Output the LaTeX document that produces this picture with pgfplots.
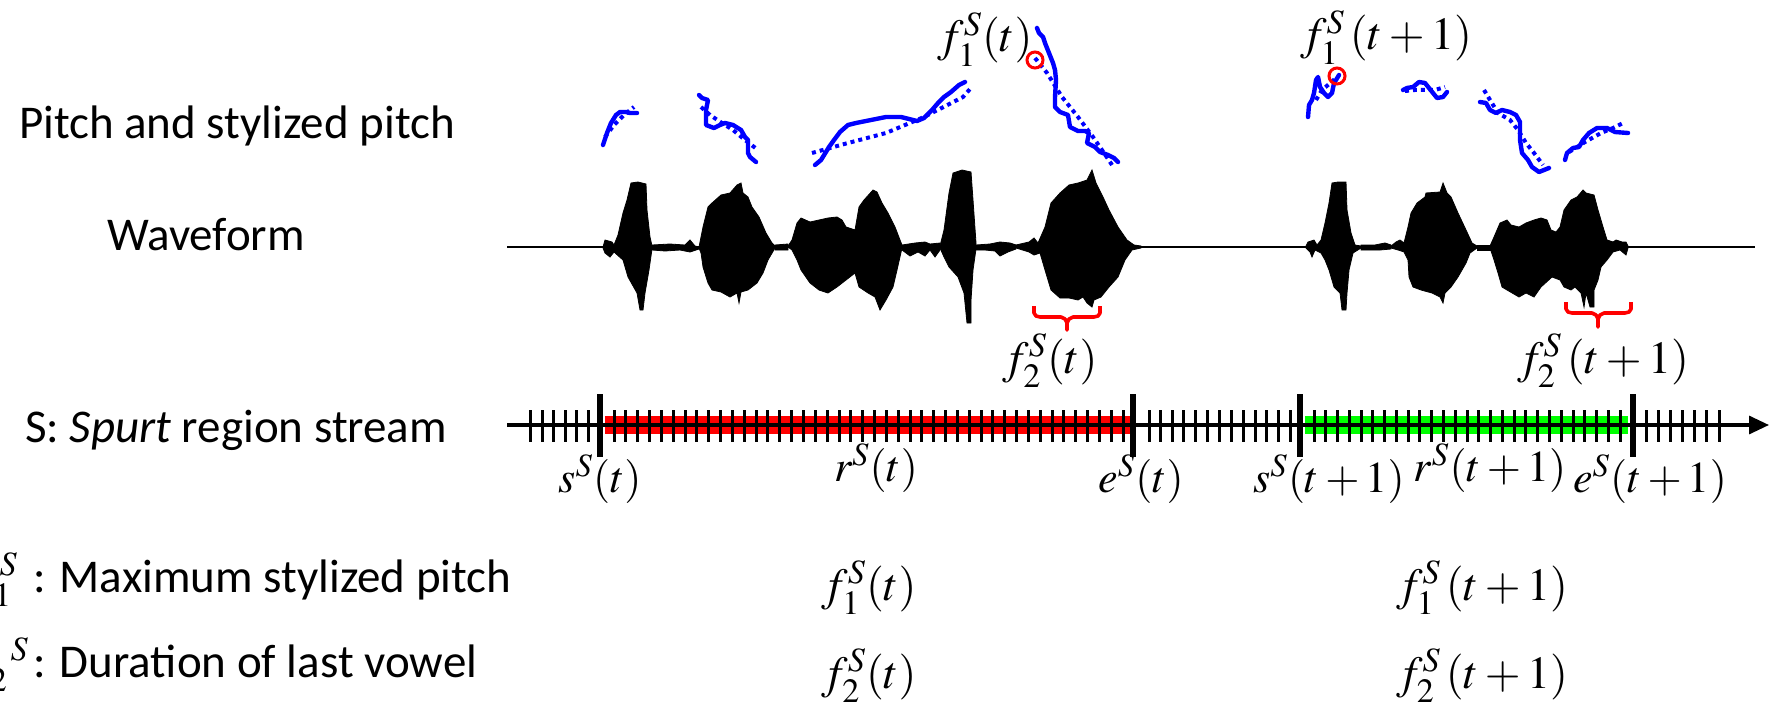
\documentclass[border=0pt]{standalone}
\usepackage{mathptmx}
\usepackage[no-math]{fontspec}
\setmainfont{Carlito}
\usepackage{pgfplots}
\pgfplotsset{compat=1.18}
\usetikzlibrary{arrows.meta}
\definecolor{pblue}{RGB}{0,0,255}
\definecolor{pred}{RGB}{255,0,0}
\definecolor{pgreen}{RGB}{0,255,0}
\newcommand{\mt}[1]{\fontsize{23}{27}\selectfont$#1$}
\newcommand{\ms}[1]{\fontsize{22}{26}\selectfont$#1$}
\newcommand{\tx}{\fontsize{23.5}{28}\selectfont}
\begin{document}
\begin{tikzpicture}
\useasboundingbox (0,0) rectangle (885pt,350.5pt);
\begin{axis}[at={(0,0)}, anchor=south west, scale only axis, width=885pt, height=350.5pt,
  xmin=0, xmax=1770, ymin=0, ymax=701, y dir=reverse, hide axis, clip=false,
  every node/.style={inner sep=0pt, outer sep=0pt},
  solidp/.style={pblue, line width=2.2pt, line join=round, line cap=round},
  dotp/.style={pblue, line width=2pt, dash pattern=on 2pt off 2pt},
  wave/.style={fill=black, draw=black, line width=0.4pt}]

% ---------- left labels ----------
\node[anchor=base west] at (axis cs:12,138) {\tx Pitch and stylized pitch};
\node[anchor=base west] at (axis cs:100,250) {\tx Waveform};
\node[anchor=base west] at (axis cs:18,442) {\tx S: \textit{Spurt} region stream};
\node[anchor=base east] at (axis cs:25,592) {\mt{f_1^S}};
\node[anchor=base west] at (axis cs:26,592) {\tx : Maximum stylized pitch};
\node[anchor=base east] at (axis cs:36,677) {\mt{f_{\,2}^{\;\;\,S}}};
\node[anchor=base west] at (axis cs:26,677) {\tx : Duration of last vowel};

% ---------- pitch curves ----------
\addplot[solidp] coordinates {(603,145)(607,133)(611,123)(616,115)(620,112)(626,112)(630,113)(637,113)};
\addplot[dotp] coordinates {(605,137)(614,125)(624,115)(634,107)};
\addplot[solidp] coordinates {(699,95)(702,98)(708,100)(706,110)(706,125)(714,128)(720,125)(725,123)(733,125)(741,130)(745,137)(748,140)(748,153)(750,157)(756,162)};
\addplot[dotp] coordinates {(701,107)(710,115)(722,123)(733,130)(745,140)(758,150)};
\addplot[solidp] coordinates {(815,165)(821,160)(829,147)(834,140)(840,132)(848,125)(856,123)(871,120)(886,117)(901,117)(917,121)(924,118)(932,110)(938,103)(944,97)(951,92)(959,85)(965,82)};
\addplot[dotp] coordinates {(812,153)(848,143)(886,133)(924,117)(963,97)(970,89)};
\addplot[solidp] coordinates {(1037,28)(1039,33)(1043,37)(1045,43)(1049,53)(1053,63)(1055,70)(1056,80)(1055,97)(1055,107)(1060,112)(1068,115)(1070,127)(1078,131)(1085,131)(1089,133)(1087,143)(1095,147)(1100,152)(1108,155)(1114,158)(1118,162)};
\addplot[dotp] coordinates {(1035,58)(1047,73)(1062,97)(1078,117)(1093,137)(1104,153)(1114,168)};
\addplot[solidp] coordinates {(1308,117)(1309,105)(1312,100)(1314,93)(1316,80)(1318,77)(1320,87)(1324,93)(1328,97)(1332,93)(1334,83)(1336,80)(1339,75)};
\addplot[dotp] coordinates {(1316,100)(1322,90)(1328,85)(1336,78)};
\addplot[solidp] coordinates {(1403,90)(1407,88)(1413,87)(1419,82)(1425,83)(1429,88)(1433,93)(1437,98)(1443,97)(1447,92)};
\addplot[dotp] coordinates {(1405,91)(1415,90)(1427,90)(1435,90)(1445,87)};
\addplot[solidp] coordinates {(1480,102)(1486,103)(1490,110)(1496,113)(1502,110)(1510,112)(1516,115)(1520,122)(1520,140)(1522,153)(1528,160)(1532,167)(1539,172)(1549,168)};
\addplot[dotp] coordinates {(1484,90)(1490,100)(1498,113)(1510,120)(1518,130)(1526,143)(1534,153)(1543,165)};
\addplot[solidp] coordinates {(1565,160)(1567,153)(1573,148)(1579,147)(1583,140)(1589,133)(1597,128)(1607,128)(1615,132)(1628,133)};
\addplot[dotp] coordinates {(1569,152)(1585,142)(1601,133)(1613,128)(1623,123)};

% maxima circles
\addplot[only marks, mark=o, mark size=4pt, mark options={pred, line width=1.5pt}] coordinates {(1035,60)(1337,76)};
\node[anchor=base] at (axis cs:985,52) {\mt{f_1^S(t)}};
\node[anchor=base] at (axis cs:1386,50) {\mt{f_1^S\,(t+1)}};

% ---------- waveform ----------
\addplot[black, line width=1.4pt] coordinates {(507,247)(1755,247)};
\addplot[wave] coordinates {(603,247)(605,240)(612,242)(614,245)(618,235)(623,213)(627,200)(631,183)(638,182)(646,184)(647,210)(650,237)(652,246)
  (652,249)(649,270)(645,293)(643,310)(640,310)(637,293)(628,277)(623,260)(614,252)(610,257)(605,253)(603,248)} -- cycle;
\addplot[wave] coordinates {(652,245)(670,244)(685,245)(690,240)(695,246)(699,247)(699,249)(690,252)(680,250)(665,251)(652,250)} -- cycle;
\addplot[wave] coordinates {(699,247)(703,227)(708,207)(712,203)(721,195)(730,193)(737,185)(741,183)(743,193)(748,197)(752,207)(759,217)(766,233)(772,243)(775,246)
  (775,248)(768,260)(763,273)(757,283)(748,290)(741,292)(739,303)(737,293)(730,297)(721,292)(712,290)(708,283)(703,267)(701,253)(699,248)} -- cycle;
\addplot[wave] coordinates {(775,245)(788,244)(788,250)(775,250)} -- cycle;
\addplot[wave] coordinates {(788,246)(792,240)(797,223)(801,218)(810,222)(819,220)(828,218)(837,217)(842,220)(846,227)(855,230)(859,207)(864,200)(873,190)(877,192)(882,203)(888,213)(895,227)(900,240)(902,245)
  (902,248)(897,270)(893,287)(886,300)(880,310)(875,297)(868,293)(859,287)(855,273)(846,280)(837,287)(828,293)(819,290)(810,283)(801,270)(797,260)(792,250)(788,247)} -- cycle;
\addplot[wave] coordinates {(902,245)(915,243)(925,242)(930,244)(940,243)(940,250)(935,257)(930,250)(925,256)(918,252)(910,256)(902,250)} -- cycle;
\addplot[wave] coordinates {(940,246)(944,230)(949,193)(953,173)(962,170)(971,172)(973,200)(976,243)
  (976,249)(973,270)(971,300)(971,323)(967,323)(964,293)(958,277)(949,267)(944,257)(940,248)} -- cycle;
\addplot[wave] coordinates {(976,245)(990,244)(1000,242)(1010,243)(1016,245)(1016,249)(1008,252)(1000,256)(995,251)(985,250)(976,250)} -- cycle;
\addplot[wave] coordinates {(1016,245)(1029,242)(1034,238)(1038,243)(1045,227)(1051,203)(1060,193)(1069,185)(1078,183)(1087,180)(1092,170)(1096,183)(1103,197)(1109,210)(1118,227)(1127,240)(1134,245)(1141,246)
  (1141,248)(1132,250)(1125,260)(1118,277)(1109,287)(1101,297)(1094,300)(1092,307)(1087,303)(1083,297)(1078,300)(1069,298)(1060,298)(1051,290)(1045,270)(1040,253)(1034,255)(1029,252)(1016,248)} -- cycle;
\addplot[wave] coordinates {(1306,246)(1308,242)(1314,240)(1317,245)(1321,240)(1325,223)(1329,203)(1332,183)(1338,182)(1346,182)(1347,210)(1351,233)(1355,245)(1361,246)
  (1361,248)(1353,253)(1349,270)(1347,293)(1346,310)(1342,310)(1340,293)(1334,287)(1329,270)(1325,260)(1321,253)(1315,250)(1312,257)(1310,252)(1306,248)} -- cycle;
\addplot[wave] coordinates {(1361,245)(1375,245)(1385,243)(1391,245)(1391,249)(1380,250)(1370,250)(1361,250)} -- cycle;
\addplot[wave] coordinates {(1391,246)(1396,242)(1400,240)(1404,243)(1408,227)(1411,213)(1417,203)(1425,197)(1426,193)(1440,192)(1443,183)(1447,193)(1451,197)(1458,213)(1466,230)(1472,243)(1477,246)
  (1477,248)(1470,253)(1466,263)(1458,277)(1451,287)(1445,293)(1443,303)(1440,297)(1432,293)(1421,290)(1413,287)(1409,277)(1408,260)(1404,252)(1398,250)(1391,248)} -- cycle;
\addplot[wave] coordinates {(1477,245)(1490,245)(1490,250)(1477,250)} -- cycle;
\addplot[wave] coordinates {(1490,246)(1494,237)(1500,223)(1507,220)(1511,225)(1519,227)(1526,223)(1534,220)(1541,218)(1547,220)(1551,230)(1556,232)(1560,227)(1564,210)(1571,200)(1577,197)(1583,190)(1586,193)(1594,195)(1598,210)(1603,227)(1607,240)(1613,242)(1616,240)(1622,242)(1626,242)(1628,246)
  (1628,248)(1626,255)(1620,250)(1613,252)(1607,260)(1601,267)(1598,280)(1594,290)(1594,307)(1590,307)(1586,293)(1584,307)(1581,293)(1575,287)(1571,290)(1564,287)(1560,280)(1552,277)(1541,287)(1534,297)(1526,293)(1519,297)(1507,290)(1502,287)(1498,273)(1494,260)(1490,248)} -- cycle;

% braces for last vowel
\addplot[pred, line width=1.8pt, line join=round] coordinates {(1034,306)(1034,313)(1036,316)(1040,317)(1061,317)(1065,319)(1067,323)(1067,330)(1067,323)(1069,319)(1073,317)(1094,317)(1098,316)(1100,313)(1100,306)};
\addplot[pred, line width=1.8pt, line join=round] coordinates {(1566,302)(1566,309)(1568,312)(1572,313)(1592,313)(1596,315)(1598,319)(1598,327)(1598,319)(1600,315)(1604,313)(1625,313)(1629,312)(1631,309)(1631,302)};
\node[anchor=base] at (axis cs:1050,373) {\mt{f_2^S(t)}};
\node[anchor=base] at (axis cs:1603,373) {\mt{f_2^S\,(t+1)}};

% ---------- stream ----------
\addplot[draw=none, fill=pred] coordinates {(605,416)(1132,416)(1132,434)(605,434)} -- cycle;
\addplot[draw=none, fill=pgreen] coordinates {(1305,416)(1628,416)(1628,434)(1305,434)} -- cycle;
\addplot[black, line width=1.6pt, -{Triangle[length=10pt,width=9pt]}] coordinates {(507,425)(1769,425)};
\addplot[only marks, mark=|, mark size=8pt, mark options={black, line width=1.5pt}] coordinates {
 (530,426)(542,426)(553,426)(565,426)(576,426)(588,426)
 (614,426)(625.8,426)(637.7,426)(649.5,426)(661.4,426)(673.2,426)(685,426)(696.9,426)(708.7,426)(720.6,426)
 (732.4,426)(744.2,426)(756.1,426)(767.9,426)(779.8,426)(791.6,426)(803.4,426)(815.3,426)(827.1,426)(839,426)
 (850.8,426)(862.6,426)(874.5,426)(886.3,426)(898.2,426)(910,426)(921.8,426)(933.7,426)(945.5,426)(957.4,426)
 (969.2,426)(981,426)(992.9,426)(1004.7,426)(1016.6,426)(1028.4,426)(1040.2,426)(1052.1,426)(1063.9,426)(1075.8,426)
 (1087.6,426)(1099.4,426)(1111.3,426)(1123.1,426)
 (1149,426)(1160,426)(1172,426)(1183,426)(1195,426)(1207,426)(1219,426)(1231,426)(1243,426)(1255,426)(1266,426)(1278,426)(1290,426)
 (1314,426)(1325.8,426)(1337.5,426)(1349.3,426)(1361.1,426)(1372.9,426)(1384.6,426)(1396.4,426)(1408.2,426)(1419.9,426)
 (1431.7,426)(1443.5,426)(1455.2,426)(1467,426)(1478.8,426)(1490.6,426)(1502.3,426)(1514.1,426)(1525.9,426)(1537.6,426)
 (1549.4,426)(1561.2,426)(1573,426)(1584.7,426)(1596.5,426)(1608.3,426)(1620,426)
 (1646,426)(1658,426)(1670,426)(1682,426)(1694,426)(1706,426)(1719,426)};
\addplot[only marks, mark=|, mark size=15.75pt, mark options={black, line width=2.7pt}] coordinates {(600,425.5)(1133,425.5)(1300,425.5)(1633,425.5)};

\node[anchor=base] at (axis cs:600,492) {\ms{s^S(t)}};
\node[anchor=base] at (axis cs:876,481) {\ms{r^S(t)}};
\node[anchor=base] at (axis cs:1141,492) {\ms{e^S(t)}};
\node[anchor=base] at (axis cs:1329,492) {\ms{s^S(t+1)}};
\node[anchor=base] at (axis cs:1490,481) {\ms{r^S(t+1)}};
\node[anchor=base] at (axis cs:1650,492) {\ms{e^S(t+1)}};

% ---------- feature values ----------
\node[anchor=base] at (axis cs:869,600) {\mt{f_1^S(t)}};
\node[anchor=base] at (axis cs:1482,600) {\mt{f_1^S\,(t+1)}};
\node[anchor=base] at (axis cs:869,688) {\mt{f_2^S(t)}};
\node[anchor=base] at (axis cs:1482,688) {\mt{f_2^S\,(t+1)}};
\end{axis}
\end{tikzpicture}
\end{document}
